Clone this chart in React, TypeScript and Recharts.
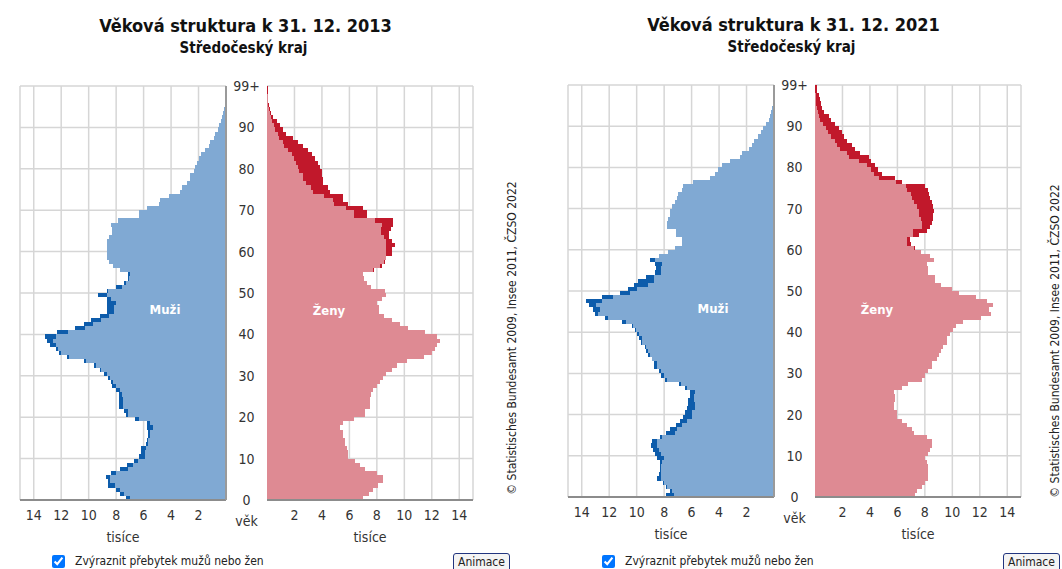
import React from 'react'
import { BarChart, Bar, XAxis, YAxis, CartesianGrid } from 'recharts'

// age groups 0..99 (99 = 99+), values in thousands
const AGES = Array.from({ length: 100 }, (_, i) => i)
const AGE_TICKS = [0, 10, 20, 30, 40, 50, 60, 70, 80, 90, 99]
const VALUE_TICKS = [2, 4, 6, 8, 10, 12, 14]
const VALUE_MAX = 15

const MALE_2013 = [
  7.3, 7.7, 8.0, 8.6, 8.6, 8.75, 8.4, 7.7, 7.2, 6.7,
  6.35, 6.2, 6.2, 5.85, 5.75, 5.7, 5.7, 5.75, 5.75, 6.6,
  7.3, 7.4, 7.8, 7.8, 7.8, 7.8, 8.0, 8.3, 8.4, 8.6,
  8.85, 9.2, 9.6, 10.35, 11.55, 12.15, 12.4, 12.8, 13.0, 13.2,
  12.3, 11.0, 10.35, 9.85, 9.2, 8.7, 8.65, 8.7, 8.65, 9.3,
  8.65, 8.0, 7.45, 7.1, 7.1, 7.75, 8.2, 8.55, 8.65, 8.65,
  8.65, 8.65, 8.7, 8.55, 8.3, 8.3, 8.4, 7.9, 6.35, 6.3,
  5.75, 4.9, 4.8, 4.15, 3.35, 3.2, 2.85, 2.65, 2.6, 2.35,
  2.25, 2.1, 1.95, 1.85, 1.5, 1.25, 1.15, 0.9, 0.8, 0.6,
  0.53, 0.4, 0.3, 0.24, 0.17, 0.1, 0.07, 0.05, 0.03, 0.03,
]
const FEMALE_2013 = [
  7.0, 7.4, 7.75, 8.1, 8.45, 8.45, 8.0, 7.1, 6.75, 6.4,
  5.9, 5.9, 5.8, 5.7, 5.65, 5.55, 5.5, 5.3, 5.55, 6.3,
  7.1, 7.1, 7.5, 7.5, 7.5, 7.6, 7.7, 8.0, 8.2, 8.45,
  8.7, 9.1, 9.45, 10.2, 11.4, 12.0, 12.2, 12.35, 12.6, 12.35,
  11.5, 10.3, 9.7, 9.1, 8.5, 8.15, 8.15, 8.0, 8.35, 8.7,
  8.6, 7.6, 7.25, 7.05, 7.0, 7.8, 8.35, 8.6, 8.7, 9.1,
  9.1, 9.3, 9.1, 8.85, 8.9, 9.0, 9.2, 9.2, 7.25, 7.25,
  7.0, 5.9, 5.55, 5.55, 4.6, 4.45, 4.1, 4.1, 4.0, 4.0,
  3.85, 3.7, 3.5, 3.25, 2.95, 2.65, 2.25, 1.9, 1.4, 1.15,
  0.92, 0.7, 0.45, 0.32, 0.2, 0.15, 0.1, 0.07, 0.05, 0.08,
]
const MALE_2021 = [
  7.9, 7.6, 7.9, 8.05, 8.55, 8.4, 8.3, 8.3, 8.3, 8.55,
  8.65, 8.8, 8.95, 8.9, 8.3, 7.85, 7.55, 7.1, 6.85, 6.6,
  6.5, 6.35, 6.25, 6.25, 6.15, 6.15, 6.5, 6.9, 7.95, 8.2,
  8.35, 8.75, 8.75, 8.9, 9.15, 9.3, 9.4, 9.65, 9.8, 9.95,
  10.1, 10.35, 11.1, 12.3, 13.0, 13.15, 13.5, 13.7, 12.55, 11.2,
  10.6, 10.2, 9.9, 9.3, 8.65, 8.6, 8.65, 9.0, 8.4, 7.7,
  7.2, 6.7, 6.7, 7.1, 7.1, 7.8, 7.8, 7.7, 7.6, 7.6,
  7.4, 7.2, 7.05, 7.0, 6.7, 6.6, 5.9, 4.65, 4.3, 4.05,
  3.8, 3.2, 2.5, 2.35, 1.8, 1.6, 1.45, 1.15, 0.97, 0.78,
  0.58, 0.4, 0.3, 0.22, 0.15, 0.1, 0.07, 0.05, 0.03, 0.03,
]
const FEMALE_2021 = [
  7.3, 7.4, 7.8, 8.0, 8.2, 8.2, 8.2, 8.2, 8.15, 8.0,
  8.25, 8.4, 8.5, 8.5, 8.15, 7.2, 7.05, 6.7, 6.35, 6.0,
  6.0, 5.75, 5.75, 5.85, 5.85, 5.75, 6.35, 6.8, 7.8, 8.0,
  8.2, 8.5, 8.55, 8.85, 9.05, 9.2, 9.35, 9.6, 9.6, 9.85,
  10.05, 10.3, 10.8, 12.1, 12.85, 12.7, 12.95, 12.55, 11.75, 10.45,
  9.95, 9.2, 8.75, 8.75, 8.25, 8.25, 8.15, 8.7, 8.4, 7.7,
  7.3, 7.0, 6.9, 7.55, 8.15, 8.4, 8.5, 8.6, 8.6, 8.7,
  8.6, 8.5, 8.4, 8.3, 8.25, 8.0, 6.35, 5.85, 4.9, 4.6,
  4.4, 4.05, 3.9, 3.3, 2.9, 2.7, 2.35, 2.1, 2.0, 1.75,
  1.45, 1.2, 1.0, 0.63, 0.5, 0.42, 0.33, 0.28, 0.15, 0.12,
]

const BLUE = '#80a9d3'
const BLUE_DARK = '#0d5cab'
const PINK = '#de8a93'
const RED_DARK = '#c1182b'
const GRID = '#d6d6d6'
const FONT = "'DejaVu Sans Condensed', 'DejaVu Sans', Verdana, sans-serif"

const CHART_H = 560
const AXIS_H = 40

// light part = common value of both sexes, dark part = surplus of one sex
function buildRows(male: number[], female: number[]) {
  return AGES.map((age) => {
    const m = male[age]
    const f = female[age]
    const both = Math.min(m, f)
    return {
      age,
      mBase: both,
      mExtra: Math.max(m - f, 0),
      fBase: both,
      fExtra: Math.max(f - m, 0),
    }
  }).reverse()
}

// crisp rect; a hair taller so a band edge landing on x.5 doesn't leave a white row
const CrispBar = (p: any) => {
  const w = p.width || 0
  const h = p.height || 0
  if (!w || !h) return <g />
  return (
    <rect
      x={Math.min(p.x, p.x + w)}
      y={Math.min(p.y, p.y + h)}
      width={Math.abs(w)}
      height={Math.abs(h) + 0.003}
      fill={p.fill}
      shapeRendering="crispEdges"
    />
  )
}

// grid lines on the band edges (0 at the bottom, 99+ at the top)
function ageGrid({ yAxis, offset }: any) {
  const s = yAxis && yAxis.scale
  let pos: ((v: number) => number) | null = null
  if (typeof s === 'function') pos = (v) => s(v)
  else if (s && typeof s.map === 'function') pos = (v) => s.map(v)
  let bw = s && typeof s.bandwidth === 'function' ? s.bandwidth() : 0
  if (!pos || !Number.isFinite(pos(0))) {
    // fall back to the plot box: categories run from 99 (top) to 0 (bottom)
    bw = offset.height / AGES.length
    pos = (v) => offset.top + (AGES.length - 1 - v) * bw
  }
  return AGE_TICKS.map((a) => (a === 99 ? pos!(a) : pos!(a) + bw))
}

const ageTick = (bw: number) => (p: any) => {
  const v = p.payload.value
  return (
    <text
      x={p.x + 20.5}
      y={p.y + (v === 99 ? -bw / 2 : bw / 2)}
      dy="0.36em"
      textAnchor="middle"
      fontSize={14}
      fill="#333"
    >
      {v === 99 ? '99+' : v}
    </text>
  )
}

const xTick = { fontSize: 14, fill: '#333' }

const centered: React.CSSProperties = {
  position: 'absolute',
  transform: 'translate(-50%, -50%)',
  whiteSpace: 'nowrap',
}
const sexLabel: React.CSSProperties = { color: '#fff', fontWeight: 'bold', fontSize: 13 }

function Pyramid({ title, male, female, x, top, bottom }: {
  title: string
  male: number[]
  female: number[]
  x: number
  top: number
  bottom: number
}) {
  const rows = buildRows(male, female)
  const bw = (bottom - top) / AGES.length
  const mb = CHART_H - AXIS_H - bottom
  // bars fill the whole band; a hair less than the band keeps recharts from shrinking them
  const barSize = bw - 1e-6
  return (
    <>
      <div style={{ position: 'absolute', left: x, top: 0 }}>
        <BarChart
          width={267}
          height={CHART_H}
          data={rows}
          layout="vertical"
          margin={{ top, right: 0, bottom: mb, left: 20 }}
          barCategoryGap={0}
          barGap={0}
          barSize={barSize}
        >
          <CartesianGrid stroke={GRID} strokeWidth={1.5} horizontalCoordinatesGenerator={ageGrid} />
          <XAxis
            type="number"
            domain={[0, VALUE_MAX]}
            reversed
            ticks={VALUE_TICKS}
            tickLine={false}
            tickSize={0}
            tickMargin={10}
            height={AXIS_H}
            axisLine={{ stroke: '#8c8c8c', strokeWidth: 2 }}
            tick={xTick}
            label={{ value: 'tisíce', position: 'insideBottom', offset: -2, fontSize: 14, fill: '#333' }}
          />
          <YAxis
            type="category"
            dataKey="age"
            orientation="right"
            width={41}
            ticks={AGE_TICKS}
            interval={0}
            tickLine={false}
            tickSize={0}
            tickMargin={0}
            axisLine={{ stroke: '#9a9a9a', strokeWidth: 2 }}
            tick={ageTick(bw)}
            label={{ value: 'věk', position: 'bottom', offset: 16, fontSize: 14, fill: '#333' }}
          />
          <Bar dataKey="mBase" stackId="m" fill={BLUE} shape={CrispBar} isAnimationActive={false} />
          <Bar dataKey="mExtra" stackId="m" fill={BLUE_DARK} shape={CrispBar} isAnimationActive={false} />
        </BarChart>
      </div>
      <div style={{ position: 'absolute', left: x + 267, top: 0 }}>
        <BarChart
          width={216}
          height={CHART_H}
          data={rows}
          layout="vertical"
          margin={{ top, right: 10, bottom: mb, left: 0 }}
          barCategoryGap={0}
          barGap={0}
          barSize={barSize}
        >
          <CartesianGrid stroke={GRID} strokeWidth={1.5} horizontalCoordinatesGenerator={ageGrid} />
          <XAxis
            type="number"
            domain={[0, VALUE_MAX]}
            ticks={VALUE_TICKS}
            tickLine={false}
            tickSize={0}
            tickMargin={10}
            height={AXIS_H}
            axisLine={{ stroke: '#8c8c8c', strokeWidth: 2 }}
            tick={xTick}
            label={{ value: 'tisíce', position: 'insideBottom', offset: -2, fontSize: 14, fill: '#333' }}
          />
          <YAxis
            type="category"
            dataKey="age"
            width={0}
            ticks={AGE_TICKS}
            tick={false}
            tickLine={false}
            axisLine={{ stroke: '#9a9a9a', strokeWidth: 2 }}
          />
          <Bar dataKey="fBase" stackId="f" fill={PINK} shape={CrispBar} isAnimationActive={false} />
          <Bar dataKey="fExtra" stackId="f" fill={RED_DARK} shape={CrispBar} isAnimationActive={false} />
        </BarChart>
      </div>
      <div style={{ ...centered, left: x + 165, top: top + 223, ...sexLabel }}>Muži</div>
      <div style={{ ...centered, left: x + 329, top: top + 224, ...sexLabel }}>Ženy</div>
      <div style={{ ...centered, left: x + 245.5, top: top - 61, fontSize: 18, fontWeight: 'bold', color: '#111' }}>
        {title}
      </div>
      <div style={{ ...centered, left: x + 243.5, top: top - 38, fontSize: 15, fontWeight: 'bold', color: '#111' }}>
        Středočeský kraj
      </div>
    </>
  )
}

function Controls({ x }: { x: number }) {
  return (
    <>
      <input
        type="checkbox"
        checked
        readOnly
        style={{ position: 'absolute', left: x + 52, top: 555, width: 13, height: 13, margin: 0 }}
      />
      <div style={{ position: 'absolute', left: x + 75, top: 554, fontSize: 12, color: '#222', whiteSpace: 'nowrap' }}>
        Zvýraznit přebytek mužů nebo žen
      </div>
      <div
        style={{
          position: 'absolute',
          left: x + 453,
          top: 553,
          height: 18,
          padding: '0 4px',
          border: '1px solid #22357f',
          borderRadius: 3,
          fontSize: 12,
          lineHeight: '16px',
          color: '#222',
          background: '#f4f4f4',
        }}
      >
        Animace
      </div>
    </>
  )
}

const copyText = '© Statistisches Bundesamt 2009, Insee 2011, ČZSO 2022'
const copyStyle: React.CSSProperties = {
  ...centered,
  transform: 'translate(-50%, -50%) rotate(-90deg)',
  fontSize: 12,
  color: '#222',
}

export default function App() {
  return (
    <div
      style={{
        position: 'absolute',
        left: 0,
        top: 0,
        width: 1062,
        height: 569,
        overflow: 'hidden',
        background: '#fff',
        fontFamily: FONT,
      }}
    >
      <Pyramid title="Věková struktura k 31. 12. 2013" male={MALE_2013} female={FEMALE_2013} x={0} top={86} bottom={500} />
      <Pyramid title="Věková struktura k 31. 12. 2021" male={MALE_2021} female={FEMALE_2021} x={548} top={85} bottom={497} />
      <div style={{ ...copyStyle, left: 512, top: 338 }}>{copyText}</div>
      <div style={{ ...copyStyle, left: 1055, top: 341 }}>{copyText}</div>
      <Controls x={0} />
      <Controls x={550} />
    </div>
  )
}
